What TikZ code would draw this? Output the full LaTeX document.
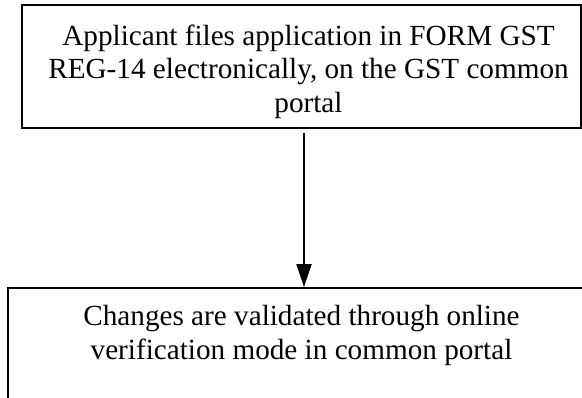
\documentclass[tikz,border=0pt]{standalone}
\usepackage{fontspec}
\setmainfont{Liberation Serif}
\usetikzlibrary{arrows.meta}
\begin{document}
\begin{tikzpicture}[x=1pt,y=1pt,
  box/.style={draw=black,line width=1.8pt,inner sep=0pt,rectangle},
  txt/.style={inner sep=0pt,align=center,font=\fontsize{29.2}{33.5}\selectfont},
  arr/.style={line width=1.8pt,-{Triangle[length=23pt,width=15pt]}}]
\useasboundingbox (0,0) rectangle (582,-398);
\clip (0,0) rectangle (582,-398);
\node[box,minimum width=559pt,minimum height=123pt] (top) at (301.5,-66.5) {};
\node[txt,anchor=north] (toptext) at (308.5,-24.3) {Applicant files application in FORM GST\\REG-14 electronically, on the GST common\\portal};
\node[box,minimum width=587pt,minimum height=123pt] (bot) at (301.5,-349.5) {};
\node[txt,anchor=north] (bottext) at (301.5,-305.3) {Changes are validated through online\\verification mode in common portal};
\draw[arr,shorten <=4pt] ([xshift=2.5pt]top.south) -- ([xshift=2.5pt]bot.north);
\end{tikzpicture}
\end{document}
